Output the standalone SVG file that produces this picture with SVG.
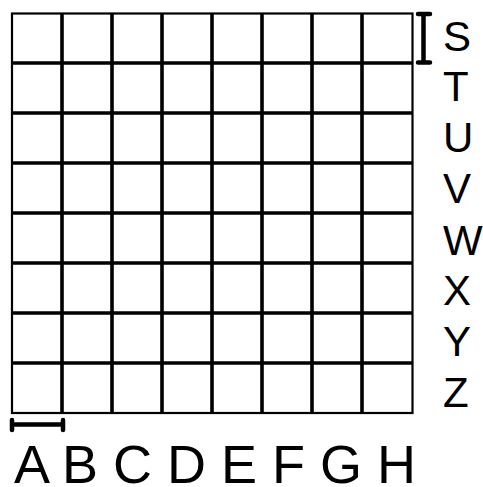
<svg xmlns="http://www.w3.org/2000/svg" width="483" height="487" viewBox="0 0 483 487">
<style>
.outer{fill:none;stroke:#000;stroke-width:2.2}
.inner{stroke:#000;stroke-width:3.6}
.br{stroke:#000;stroke-width:4.5;stroke-linecap:round;fill:none}
.lbl{font-family:"Liberation Sans",Arial,sans-serif;fill:#000}
</style>
<rect width="483" height="487" fill="#fff"/>
<g id="grid">
<path class="inner" d="M62 13V413M112 13V413M162 13V413M212 13V413M262 13V413M312 13V413M362 13V413M12 63H412M12 113H412M12 163H412M12 213H412M12 263H412M12 313H412M12 363H412"/>
<rect class="outer" x="12" y="13.5" width="400.5" height="399.5"/>
</g>
<g id="row-bracket">
<path class="br" d="M423.5 14V62.5M418 14H430M418 62.5H430"/>
</g>
<g id="col-bracket">
<path class="br" d="M12 424.5H63M12 420V430M63 420V430"/>
</g>
<g id="row-labels" class="lbl" font-size="42">
<text x="443" y="51">S</text>
<text x="443" y="101">T</text>
<text x="443" y="152">U</text>
<text x="443" y="203">V</text>
<text x="443" y="254.5">W</text>
<text x="443" y="305">X</text>
<text x="443" y="355.5">Y</text>
<text x="443" y="406.5">Z</text>
</g>
<g id="col-labels" class="lbl" font-size="54">
<text x="14" y="483">A B C D E F G H</text>
</g>
</svg>
